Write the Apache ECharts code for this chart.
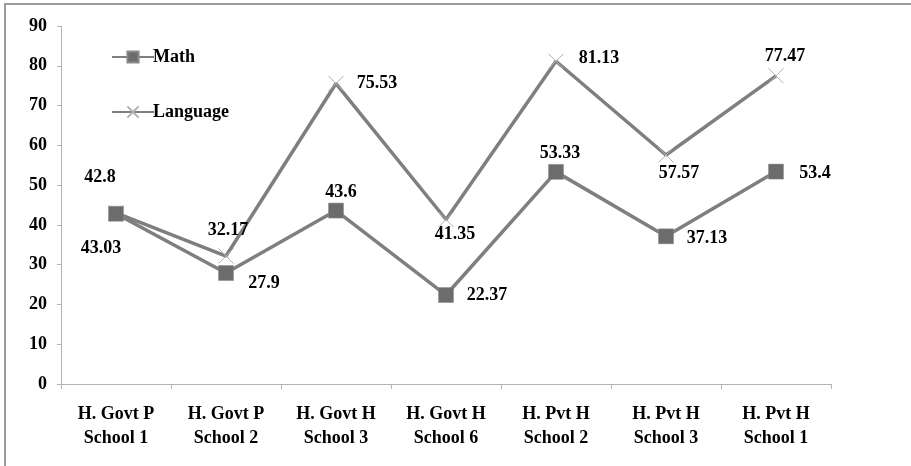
<!DOCTYPE html>
<html>
<head>
<meta charset="utf-8">
<script src="https://cdn.jsdelivr.net/npm/echarts@6/dist/echarts.min.js"></script>
<style>
  html, body { margin: 0; padding: 0; background: #fff; }
  #chart { width: 911px; height: 466px; }
</style>
</head>
<body>
<div id="chart"></div>
<script>
// School names along the x axis
const schools = [
  'H. Govt P\nSchool 1', 'H. Govt P\nSchool 2', 'H. Govt H\nSchool 3', 'H. Govt H\nSchool 6',
  'H. Pvt H\nSchool 2', 'H. Pvt H\nSchool 3', 'H. Pvt H\nSchool 1'
];
// Average scores per school
const mathScores = [42.8, 27.9, 43.6, 22.37, 53.33, 37.13, 53.4];
const languageScores = [43.03, 32.17, 75.53, 41.35, 81.13, 57.57, 77.47];
// Y axis ticks
const yTicks = [0, 10, 20, 30, 40, 50, 60, 70, 80, 90];

// Where each value label sits relative to its point (dx, dy in px)
const mathLabelOffsets = [[-16, -36], [38, 10], [5, -18], [41, 0], [4, -19], [41, 2], [39, 2]];
const langLabelOffsets = [[-15, 36], [2, -26], [41, 0], [9, 15], [43, -3], [13, 18], [9, -19]];

const FONT = "'Liberation Serif', 'Times New Roman', serif";
const txt = { fontFamily: FONT, fontWeight: 'bold', fontSize: 18, color: '#000' };

function withLabels(values, offsets) {
  return values.map((v, i) => ({
    value: v,
    label: { show: true, position: 'inside', offset: offsets[i] }
  }));
}

const crossPath = 'path://M0,0L10,10M10,0L0,10';

const chart = echarts.init(document.getElementById('chart'), null, { renderer: 'canvas' });
chart.setOption({
  backgroundColor: '#fff',
  animation: false,
  graphic: [
    { type: 'line', shape: { x1: 4, y1: 4, x2: 911, y2: 4 }, style: { stroke: '#9a9a9a', lineWidth: 2 } },
    { type: 'line', shape: { x1: 5, y1: 4, x2: 5, y2: 466 }, style: { stroke: '#9a9a9a', lineWidth: 2 } }
  ],
  grid: { left: 61, right: 80, top: 26, bottom: 82, containLabel: false },
  legend: {
    orient: 'vertical',
    left: 106,
    top: 43,
    itemGap: 37,
    itemWidth: 42,
    itemHeight: 14,
    textStyle: Object.assign({}, txt, { padding: [0, 0, 0, -6] }),
    data: ['Math', 'Language']
  },
  xAxis: {
    type: 'category',
    data: schools,
    boundaryGap: true,
    axisLine: { lineStyle: { color: '#b4b4b4', width: 1 } },
    axisTick: { show: true, length: 5, lineStyle: { color: '#b4b4b4' } },
    axisLabel: Object.assign({}, txt, { margin: 18, lineHeight: 24, interval: 0 }),
    splitLine: { show: false }
  },
  yAxis: {
    type: 'value',
    min: yTicks[0],
    max: yTicks[yTicks.length - 1],
    interval: yTicks[1] - yTicks[0],
    axisLine: { show: true, lineStyle: { color: '#b4b4b4', width: 1 } },
    axisTick: { show: true, length: 4, lineStyle: { color: '#b4b4b4' } },
    axisLabel: Object.assign({}, txt, { margin: 14 }),
    splitLine: { show: false }
  },
  series: [
    {
      name: 'Math',
      type: 'line',
      data: withLabels(mathScores, mathLabelOffsets),
      symbol: 'rect',
      symbolSize: 15,
      lineStyle: { color: '#7f7f7f', width: 3.5 },
      itemStyle: { color: '#6c6c6c', borderColor: '#8a8a8a', borderWidth: 0.5 },
      label: txt,
      z: 3
    },
    {
      name: 'Language',
      type: 'line',
      data: withLabels(languageScores, langLabelOffsets),
      symbol: crossPath,
      symbolSize: 15,
      lineStyle: { color: '#7f7f7f', width: 3.5 },
      itemStyle: { color: 'rgba(0,0,0,0)', borderColor: '#b0b0b0', borderWidth: 1 },
      label: txt,
      z: 2
    }
  ]
});
</script>
</body>
</html>
